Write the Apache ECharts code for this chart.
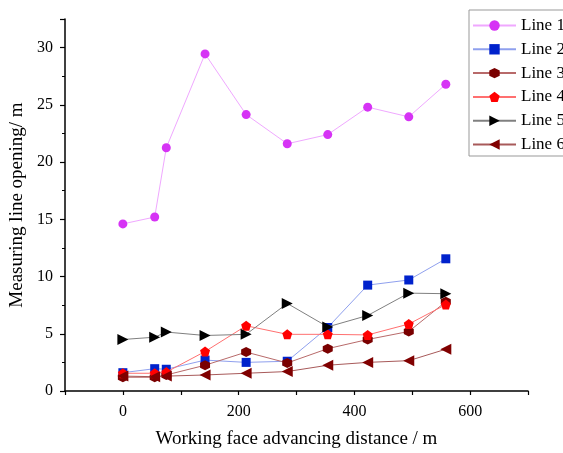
<!DOCTYPE html>
<html>
<head>
<meta charset="utf-8">
<script src="https://cdn.jsdelivr.net/npm/echarts@6/dist/echarts.min.js"></script>
<style>
  html, body { margin: 0; padding: 0; background: #fff; }
  #chart { width: 563px; height: 453px; }
</style>
</head>
<body>
<div id="chart"></div>
<script>
// Advancing distance of the working face (m)
const distance = [0, 55, 75, 142, 213, 284, 354, 423, 494, 558];

// Opening of each measuring line (m)
const line1 = [14.6, 15.2, 21.25, 29.45, 24.15, 21.6, 22.4, 24.8, 23.95, 26.8];
const line2 = [1.6, 1.95, 1.9, 2.7, 2.5, 2.6, 5.55, 9.25, 9.7, 11.55];
const line3 = [1.2, 1.2, 1.4, 2.25, 3.4, 2.45, 3.7, 4.5, 5.2, 7.8];
const line4 = [1.55, 1.55, 1.65, 3.45, 5.7, 4.95, 4.95, 4.9, 5.85, 7.55];
const line5 = [4.5, 4.7, 5.15, 4.85, 4.95, 7.65, 5.6, 6.6, 8.55, 8.5];
const line6 = [1.3, 1.25, 1.3, 1.4, 1.55, 1.7, 2.25, 2.5, 2.65, 3.65];

const seriesNames = ['Line 1', 'Line 2', 'Line 3', 'Line 4', 'Line 5', 'Line 6'];

const HEXAGON = 'path://M5,0 L9.33,2.5 L9.33,7.5 L5,10 L0.67,7.5 L0.67,2.5 Z';
const PENTAGON = 'path://M5,0 L10,3.8 L8.1,10 L1.9,10 L0,3.8 Z';
const TRI_RIGHT = 'path://M0,0 L10,5 L0,10 Z';
const TRI_LEFT = 'path://M10,0 L0,5 L10,10 Z';

const styles = [
  { values: line1, symbol: 'circle', size: 9, marker: '#d633f5', line: '#f0a8ff' },
  { values: line2, symbol: 'rect', size: 9, marker: '#0022cc', line: '#8fa0ee' },
  { values: line3, symbol: HEXAGON, size: 10, marker: '#7a0000', line: '#b86a6a' },
  { values: line4, symbol: PENTAGON, size: 10, marker: '#ff0000', line: '#ff7070' },
  { values: line5, symbol: TRI_RIGHT, size: 11, marker: '#000000', line: '#808080' },
  { values: line6, symbol: TRI_LEFT, size: 11, marker: '#800000', line: '#a85a5a' }
];

const FONT = 'Liberation Serif';

const chart = echarts.init(document.getElementById('chart'), null, { renderer: 'canvas' });

chart.setOption({
  animation: false,
  backgroundColor: '#ffffff',
  grid: { left: 65, top: 19, right: 35, bottom: 62, containLabel: false, outerBoundsMode: 'none' },
  legend: {
    left: 469,
    top: 10,
    orient: 'vertical',
    backgroundColor: '#ffffff',
    borderColor: '#999999',
    borderWidth: 1,
    padding: [7, 40, 3, 3],
    itemWidth: 43,
    itemHeight: 13,
    itemGap: 6.8,
    textStyle: { fontFamily: FONT, fontSize: 17, color: '#000' },
    data: seriesNames
  },
  xAxis: {
    type: 'value',
    min: -100,
    max: 700,
    interval: 100,
    name: 'Working face advancing distance / m',
    nameLocation: 'middle',
    nameGap: 39,
    nameTextStyle: { fontFamily: FONT, fontSize: 19, color: '#000' },
    axisLine: { show: true, onZero: false, lineStyle: { color: '#000', width: 1.5 } },
    axisTick: { show: true, length: 4, lineStyle: { color: '#000', width: 1.2 } },
    axisLabel: {
      fontFamily: FONT, fontSize: 16, color: '#000', margin: 13,
      formatter: v => (v >= 0 && v % 200 === 0 ? String(v) : '')
    },
    splitLine: { show: false }
  },
  yAxis: {
    type: 'value',
    min: 0,
    max: 32.5,
    interval: 5,
    name: 'Measuring line opening/ m',
    nameLocation: 'middle',
    nameGap: 31,
    nameTextStyle: { fontFamily: FONT, fontSize: 19, color: '#000' },
    axisLine: { show: true, onZero: false, lineStyle: { color: '#000', width: 1.5 } },
    axisTick: { show: true, length: 5, lineStyle: { color: '#000', width: 1.2 } },
    minorTick: { show: true, splitNumber: 2, length: 3, lineStyle: { color: '#000', width: 1 } },
    axisLabel: {
      fontFamily: FONT, fontSize: 16, color: '#000', margin: 12,
      formatter: v => (v % 5 === 0 ? String(v) : '')
    },
    splitLine: { show: false }
  },
  series: styles.map((s, i) => ({
    name: seriesNames[i],
    type: 'line',
    data: distance.map((d, k) => [d, s.values[k]]),
    symbol: s.symbol,
    symbolSize: s.size,
    showAllSymbol: true,
    itemStyle: { color: s.marker },
    lineStyle: { color: s.line, width: 1 },
    emphasis: { disabled: true },
    z: 2 + i
  }))
});
</script>
</body>
</html>
